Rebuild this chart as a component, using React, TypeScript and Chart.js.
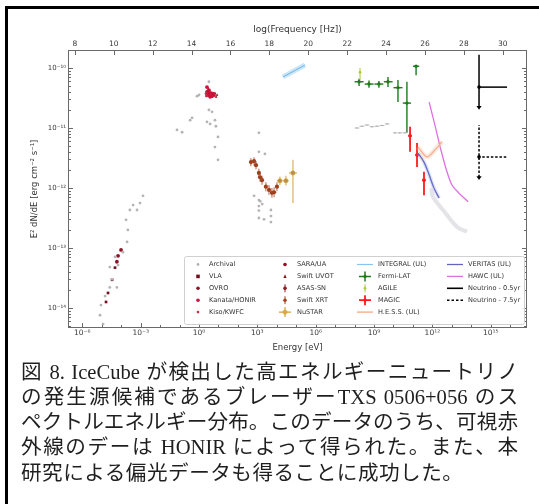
import { useEffect, useRef } from 'react';
import { Chart, registerables } from 'chart.js';

Chart.register(...registerables);

// ---------------- data (E in eV, F in erg cm^-2 s^-1) ----------------
const archivalE = [
  8.1e-6, 9.1e-6, 1.48e-5, 1.17e-5, 2.6e-5, 3.4e-5, 6.0e-5, 2.6e-5, 6.9e-5, 4.8e-5, 1.23e-4, 2.0e-4, 2.2e-4, 1.78e-4, 2.8e-4, 4.1e-4, 6.5e-4, 9.3e-4, 1.32e-3,
  3.24, 0.79, 1.0, 3.24, 4.68, 0.44, 0.35, 2.57, 3.72, 6.6, 7.4, 0.074, 0.135, 9.5, 6.6, 9.5,
  1200, 1200, 2450, 680, 1200, 1200, 1200, 1200, 2200, 5000, 5000, 5000, 1410, 1780,
];
const archivalF = [
  7.6e-15, 1.12e-14, 1.58e-14, 5.4e-15, 2.2e-14, 3.0e-14, 2.2e-14, 4.8e-14, 5.2e-14, 7.1e-14, 8.5e-14, 1.26e-13, 2.0e-13, 2.95e-13, 4.3e-13, 5.2e-13, 4.3e-13, 5.6e-13, 7.4e-13,
  5.9e-11, 3.39e-11, 3.55e-11, 2.0e-11, 1.86e-11, 1.48e-11, 1.35e-11, 1.26e-11, 1.17e-11, 1.35e-11, 1.07e-11, 9.3e-12, 8.5e-12, 7.1e-12, 4.8e-12, 2.95e-12,
  8.3e-12, 4.0e-12, 3.7e-12, 7.4e-13, 6.3e-13, 5.0e-13, 4.2e-13, 3.16e-13, 3.0e-13, 4.3e-13, 3.4e-13, 2.7e-13, 6.0e-13, 5.4e-13,
];
const archivalGammaE = [1.32e8, 2.4e8, 4.4e8, 7.8e8, 1.41e9, 2.57e9, 4.7e9, 1.2e10, 2.1e10, 3.9e10];
const archivalGammaF = [1.0e-11, 1.07e-11, 1.12e-11, 1.05e-11, 1.07e-11, 1.1e-11, 1.17e-11, 8.3e-12, 8.3e-12, 8.3e-12];
const archivalGammaELo = [1.0e8, 1.8e8, 3.3e8, 6.0e8, 1.07e9, 1.95e9, 3.6e9, 9.5e9, 1.65e10, 3.0e10];
const archivalGammaEHi = [1.75e8, 3.2e8, 5.8e8, 1.02e9, 1.85e9, 3.4e9, 6.2e9, 1.55e10, 2.8e10, 5.0e10];

const vlaE = [1.66e-5, 2.1e-5, 3.4e-5, 4.8e-5];
const vlaF = [1.26e-14, 1.78e-14, 2.95e-14, 4.7e-14];
const ovroE = [6.0e-5, 6.9e-5, 9.8e-5];
const ovroF = [5.9e-14, 7.4e-14, 9.3e-14];

const kanataE = [2.57, 2.88, 3.24, 3.72, 4.17, 4.68, 5.25, 5.89, 2.57];
const kanataF = [3.98e-11, 3.55e-11, 4.27e-11, 3.31e-11, 3.8e-11, 3.39e-11, 3.72e-11, 3.55e-11, 4.8e-11];
const kisoE = [2.29, 2.4];
const kisoF = [3.72e-11, 3.4e-11];
const saraE = [2.88, 3.1];
const saraF = [3.8e-11, 3.6e-11];
const uvotE = [6.6, 8.5, 7.6];
const uvotF = [3.8e-11, 3.55e-11, 3.3e-11];
const asassnE = [3.0];
const asassnF = [4.1e-11];
const asassnFLo = [3.5e-11];
const asassnFHi = [4.8e-11];

const xrtE = [468, 676, 851, 1200, 1380, 1740, 2750, 3980, 5620, 7240, 10200];
const xrtF = [2.7e-12, 2.8e-12, 2.4e-12, 1.78e-12, 1.51e-12, 1.35e-12, 1.05e-12, 9.3e-13, 8.3e-13, 8.5e-13, 1.05e-12];
const xrtFLo = [2.3e-12, 2.4e-12, 2.05e-12, 1.5e-12, 1.27e-12, 1.13e-12, 8.8e-13, 7.7e-13, 6.9e-13, 7.0e-13, 8.8e-13];
const xrtFHi = [3.15e-12, 3.25e-12, 2.8e-12, 2.1e-12, 1.78e-12, 1.6e-12, 1.25e-12, 1.12e-12, 1.0e-12, 1.03e-12, 1.25e-12];

const nustarE = [1.45e4, 2.95e4, 6.76e4];
const nustarF = [1.32e-12, 1.32e-12, 1.78e-12];
const nustarFLo = [1.12e-12, 1.1e-12, 5.6e-13];
const nustarFHi = [1.55e-12, 1.6e-12, 2.95e-12];
const nustarELo = [1.0e4, 2.1e4, 4.2e4];
const nustarEHi = [2.0e4, 4.0e4, 1.1e5];

const integralE = [2.09e4, 2.8e5];
const integralF = [7.1e-11, 1.12e-10];

const fermiE = [1.7e8, 5.5e8, 1.78e9, 5.2e9, 1.7e10, 4.9e10, 1.45e11];
const fermiF = [5.9e-11, 5.4e-11, 5.4e-11, 5.9e-11, 4.7e-11, 2.6e-11, 1.07e-10];
const fermiFLo = [5.0e-11, 4.7e-11, 4.7e-11, 4.8e-11, 2.7e-11, 8.3e-12, 7.6e-11];
const fermiFHi = [6.6e-11, 6.2e-11, 6.1e-11, 7.1e-11, 6.3e-11, 5.9e-11, 1.07e-10];
const fermiELo = [1.0e8, 3.3e8, 1.05e9, 3.2e9, 1.0e10, 3.0e10, 1.0e11];
const fermiEHi = [2.9e8, 9.5e8, 3.0e9, 9.0e9, 2.9e10, 8.0e10, 2.1e11];

const agileE = [1.9e8];
const agileF = [8.5e-11];
const agileFLo = [6.3e-11];
const agileFHi = [1.0e-10];

const magicE = [7.1e10, 1.62e11, 3.7e11];
const magicF = [7.4e-12, 3.55e-12, 1.35e-12];
const magicFLo = [4.0e-12, 2.24e-12, 7.6e-13];
const magicFHi = [1.05e-11, 5.6e-12, 1.86e-12];
const magicELo = [5.8e10, 1.32e11, 3.0e11];
const magicEHi = [8.7e10, 2.0e11, 4.5e11];

const hessE = [1.82e11, 5.2e11, 1.35e12, 3.1e12];
const hessF = [4.8e-12, 3.3e-12, 4.3e-12, 5.9e-12];

const veritasE = [1.82e11, 3.7e11, 6.8e11, 1.2e12, 2.2e12];
const veritasF = [3.8e-12, 2.7e-12, 1.66e-12, 1.0e-12, 6.8e-13];
const veritasBandE = [8.9e11, 1.07e12, 3.5e12, 1.86e13, 6.0e13];
const veritasBandF = [1.0e-12, 7.1e-13, 4.3e-13, 2.24e-13, 1.86e-13];

const hawcE = [6.8e11, 1.35e12, 2.75e12, 5.6e12, 1.02e13, 2.1e13, 6.8e13];
const hawcF = [2.7e-11, 1.12e-11, 4.3e-12, 1.86e-12, 1.12e-12, 8.5e-13, 5.9e-13];

const nu05E = [2.5e14];
const nu05F = [4.8e-11];
const nu05FLo = [2.24e-11];
const nu05FHi = [1.66e-10];
const nu75E = [2.5e14];
const nu75F = [3.3e-12];
const nu75FLo = [1.51e-12];
const nu75FHi = [1.12e-11];
const nuELo = [2.2e14];
const nuEHi = [6.9e15];

// ---------------- axis ticks ----------------
const energyTickValues = [1e-6, 1e-3, 1, 1e3, 1e6, 1e9, 1e12, 1e15];
const energyTickLabels = ['10⁻⁶', '10⁻³', '10⁰', '10³', '10⁶', '10⁹', '10¹²', '10¹⁵'];
const energyMinorTicks = [1e-6, 1e-5, 1e-4, 1e-3, 1e-2, 1e-1, 1, 1e1, 1e2, 1e3, 1e4, 1e5, 1e6, 1e7, 1e8, 1e9, 1e10, 1e11, 1e12, 1e13, 1e14, 1e15, 1e16];
const fluxTickValues = [1e-14, 1e-13, 1e-12, 1e-11, 1e-10];
const fluxTickLabels = ['10⁻¹⁴', '10⁻¹³', '10⁻¹²', '10⁻¹¹', '10⁻¹⁰'];
const fluxDecades = [1e-15, 1e-14, 1e-13, 1e-12, 1e-11, 1e-10];
const freqTickValues = [8, 10, 12, 14, 16, 18, 20, 22, 24, 26, 28, 30];
const freqTickLabels = ['8', '10', '12', '14', '16', '18', '20', '22', '24', '26', '28', '30'];

const captionLines = [
  '図 8. IceCube が検出した高エネルギーニュートリノ',
  'の発生源候補であるブレーザーTXS 0506+056 のス',
  'ペクトルエネルギー分布。このデータのうち、可視赤',
  '外線のデーは HONIR によって得られた。また、本',
  '研究による偏光データも得ることに成功した。',
];

// ---------------- styles ----------------
const COL = {
  archival: '#b4b4b4', vla: '#741020', ovro: '#8e1528', kanata: '#d0103a', kiso: '#c0304a',
  sara: '#901020', uvot: '#801818', asassn: '#8a1c24', xrt: '#a0401c', nustar: '#d4a23a',
  integral: '#87c5f0', fermi: '#1e7a1e', agile: '#a8c832', magic: '#ff1a1a', hess: '#f5a882',
  veritas: '#6464c0', hawc: '#e070e0', nu: '#000000',
};
const FONT = '"DejaVu Sans", sans-serif';

const pts = (E: number[], F: number[]) => E.map((x, i) => ({ x, y: F[i] }));

const scatter = (data: any, color: string, r: number, extra: any = {}) => ({
  data, showLine: false, pointRadius: r, pointBackgroundColor: color, pointBorderWidth: 0,
  pointBorderColor: color, ...extra,
});
const curve = (data: any, color: string, w: number, extra: any = {}) => ({
  data, showLine: true, borderColor: color, borderWidth: w, pointRadius: 0, tension: 0.3, ...extra,
});

const legendEntries: any[] = [
  { label: 'Archival', kind: 'dot', color: COL.archival, r: 1.4 },
  { label: 'VLA', kind: 'square', color: COL.vla, r: 1.8 },
  { label: 'OVRO', kind: 'dot', color: COL.ovro, r: 1.8 },
  { label: 'Kanata/HONIR', kind: 'dot', color: COL.kanata, r: 1.8 },
  { label: 'Kiso/KWFC', kind: 'dot', color: COL.kiso, r: 1.3 },
  { label: 'SARA/UA', kind: 'dot', color: COL.sara, r: 1.8 },
  { label: 'Swift UVOT', kind: 'tri', color: COL.uvot, r: 1.6 },
  { label: 'ASAS-SN', kind: 'errv', color: COL.asassn, r: 1.8 },
  { label: 'Swift XRT', kind: 'errv', color: COL.xrt, r: 1.8 },
  { label: 'NuSTAR', kind: 'cross', color: COL.nustar, r: 1.8, lw: 1.2, circle: true },
  { label: 'INTEGRAL (UL)', kind: 'line', color: COL.integral, lw: 1.2 },
  { label: 'Fermi-LAT', kind: 'cross', color: COL.fermi, lw: 1.5 },
  { label: 'AGILE', kind: 'cross', color: COL.agile, lw: 1, small: true },
  { label: 'MAGIC', kind: 'cross', color: COL.magic, lw: 1.8 },
  { label: 'H.E.S.S. (UL)', kind: 'line', color: COL.hess, lw: 1.3 },
  { label: 'VERITAS (UL)', kind: 'line', color: COL.veritas, lw: 1.3 },
  { label: 'HAWC (UL)', kind: 'line', color: COL.hawc, lw: 1.3 },
  { label: 'Neutrino - 0.5yr', kind: 'line', color: COL.nu, lw: 1.6 },
  { label: 'Neutrino - 7.5yr', kind: 'dash', color: COL.nu, lw: 1.6 },
];

const errorBarPlugin = {
  id: 'errorBars',
  beforeDatasetDraw(chart: any, args: any) {
    const ds: any = chart.data.datasets[args.index];
    const eb = ds.errorBars;
    if (!eb) return;
    const xs = chart.scales.x, ys = chart.scales.y;
    const { ctx, chartArea: ca } = chart;
    ctx.save();
    ctx.beginPath();
    ctx.rect(ca.left, ca.top, ca.right - ca.left, ca.bottom - ca.top);
    ctx.clip();
    ctx.strokeStyle = eb.color;
    ctx.fillStyle = eb.color;
    ctx.lineWidth = eb.width || 1;
    ctx.setLineDash(eb.dash || []);
    ds.data.forEach((p: any, i: number) => {
      const px = xs.getPixelForValue(p.x);
      const py = ys.getPixelForValue(p.y);
      if (eb.yLo && eb.yHi) {
        const y1 = ys.getPixelForValue(eb.yLo[i]);
        const y2 = ys.getPixelForValue(eb.yHi[i]);
        ctx.beginPath(); ctx.moveTo(px, y1); ctx.lineTo(px, y2); ctx.stroke();
        if (eb.arrowLow) {
          ctx.save(); ctx.setLineDash([]);
          ctx.beginPath(); ctx.moveTo(px - 2.6, y1 - 1); ctx.lineTo(px + 2.6, y1 - 1); ctx.lineTo(px, y1 + 2.8); ctx.closePath(); ctx.fill();
          ctx.restore();
        }
      }
      if (eb.xLo && eb.xHi) {
        const x1 = xs.getPixelForValue(eb.xLo[i]);
        const x2 = xs.getPixelForValue(eb.xHi[i]);
        ctx.beginPath(); ctx.moveTo(x1, py); ctx.lineTo(x2, py); ctx.stroke();
      }
    });
    ctx.restore();
  },
};

const axesPlugin = {
  id: 'axesFrame',
  afterDatasetsDraw(chart: any) {
    const { ctx, chartArea: ca, scales } = chart;
    const xs = scales.x, ys = scales.y, x2 = scales.x2;
    ctx.save();
    ctx.strokeStyle = '#6a6a6a';
    ctx.lineWidth = 1;
    ctx.strokeRect(ca.left - 0.5, ca.top - 0.5, ca.right - ca.left + 1, ca.bottom - ca.top + 1);
    ctx.beginPath();
    energyMinorTicks.forEach((v) => {
      const px = Math.round(xs.getPixelForValue(v)) + 0.5;
      if (px < ca.left || px > ca.right) return;
      const len = energyTickValues.includes(v) ? 4 : 2;
      ctx.moveTo(px, ca.bottom); ctx.lineTo(px, ca.bottom - len);
    });
    freqTickValues.forEach((v) => {
      const px = Math.round(x2.getPixelForValue(v)) + 0.5;
      ctx.moveTo(px, ca.top); ctx.lineTo(px, ca.top + 4);
    });
    fluxDecades.forEach((d) => {
      for (let k = 1; k <= 9; k++) {
        const v = d * k;
        const py = Math.round(ys.getPixelForValue(v)) + 0.5;
        if (py < ca.top || py > ca.bottom) continue;
        const len = k === 1 ? 4 : 2;
        ctx.moveTo(ca.left, py); ctx.lineTo(ca.left + len, py);
        ctx.moveTo(ca.right, py); ctx.lineTo(ca.right - len, py);
      }
    });
    ctx.stroke();
    ctx.restore();
  },
};

const legendPlugin = {
  id: 'sedLegend',
  afterDraw(chart: any) {
    const { ctx, chartArea: ca } = chart;
    const bx = ca.left + 115, by = ca.top + 205, bw = ca.right - 2 - bx, bh = ca.bottom - 3 - by;
    ctx.save();
    ctx.fillStyle = 'rgba(255,255,255,0.85)';
    ctx.strokeStyle = '#d0d0d0';
    ctx.lineWidth = 1;
    ctx.beginPath();
    ctx.roundRect(bx + 0.5, by + 0.5, bw, bh, 2);
    ctx.fill(); ctx.stroke();
    const markerX = [14, 101, 181, 271];
    const textX = [25, 113, 194, 284];
    ctx.font = `6.6px ${FONT}`;
    ctx.textBaseline = 'middle';
    legendEntries.forEach((e, i) => {
      const col = Math.floor(i / 5), row = i % 5;
      const cx = bx + markerX[col];
      const cy = by + 8.5 + row * 11.9;
      ctx.fillStyle = e.color;
      ctx.strokeStyle = e.color;
      ctx.setLineDash([]);
      if (e.kind === 'dot') {
        ctx.beginPath(); ctx.arc(cx, cy, e.r, 0, Math.PI * 2); ctx.fill();
      } else if (e.kind === 'square') {
        ctx.fillRect(cx - e.r, cy - e.r, e.r * 2, e.r * 2);
      } else if (e.kind === 'tri') {
        ctx.beginPath(); ctx.moveTo(cx, cy - e.r - 0.5); ctx.lineTo(cx + e.r, cy + e.r); ctx.lineTo(cx - e.r, cy + e.r); ctx.closePath(); ctx.fill();
      } else if (e.kind === 'errv') {
        ctx.lineWidth = 1;
        ctx.beginPath(); ctx.moveTo(cx, cy - 4); ctx.lineTo(cx, cy + 4); ctx.stroke();
        ctx.beginPath(); ctx.arc(cx, cy, e.r, 0, Math.PI * 2); ctx.fill();
      } else if (e.kind === 'cross') {
        const hw = e.small ? 3 : 6, hh = e.small ? 4 : 5;
        ctx.lineWidth = e.lw;
        ctx.beginPath();
        if (!e.small) { ctx.moveTo(cx - hw, cy); ctx.lineTo(cx + hw, cy); }
        ctx.moveTo(cx, cy - hh); ctx.lineTo(cx, cy + hh); ctx.stroke();
        ctx.beginPath(); ctx.arc(cx, cy, e.small ? 1.3 : 1.6, 0, Math.PI * 2); ctx.fill();
        if (e.circle) { ctx.lineWidth = 0.8; ctx.beginPath(); ctx.arc(cx, cy, 2.2, 0, Math.PI * 2); ctx.stroke(); }
      } else {
        ctx.lineWidth = e.lw;
        if (e.kind === 'dash') ctx.setLineDash([2.5, 2]);
        ctx.beginPath(); ctx.moveTo(cx - 8, cy); ctx.lineTo(cx + 8, cy); ctx.stroke();
      }
      ctx.setLineDash([]);
      ctx.fillStyle = '#333';
      ctx.fillText(e.label, bx + textX[col], cy);
    });
    ctx.restore();
  },
};

export default function App() {
  const ref = useRef<HTMLCanvasElement>(null);

  useEffect(() => {
    document.body.style.margin = '0';
    const canvas = ref.current;
    if (!canvas) return;
    const tickFont = { size: 7.5, family: FONT };
    const datasets: any[] = [
      curve(pts(integralE, integralF), 'rgba(135,197,240,0.45)', 5, { tension: 0 }),
      curve(pts(integralE, integralF), '#5aa6e0', 1, { tension: 0 }),
      curve(pts(veritasBandE, veritasBandF), 'rgba(222,222,228,0.85)', 4),
      curve(pts(hessE, hessF), 'rgba(250,190,160,0.3)', 5),
      curve(pts(hessE, hessF), COL.hess, 1.2),
      curve(pts(veritasE, veritasF), 'rgba(120,130,215,0.22)', 4),
      curve(pts(veritasE, veritasF), COL.veritas, 1.3),
      curve(pts(hawcE, hawcF), COL.hawc, 1.3),
      scatter(pts(archivalE, archivalF), COL.archival, 1.4),
      scatter(pts(archivalGammaE, archivalGammaF), COL.archival, 0.8, {
        errorBars: { xLo: archivalGammaELo, xHi: archivalGammaEHi, color: COL.archival, width: 1 },
      }),
      scatter(pts(vlaE, vlaF), COL.vla, 1.9, { pointStyle: 'rect' }),
      scatter(pts(ovroE, ovroF), COL.ovro, 1.9),
      scatter(pts(kisoE, kisoF), COL.kiso, 1.4),
      scatter(pts(kanataE, kanataF), COL.kanata, 1.9),
      scatter(pts(saraE, saraF), COL.sara, 1.9),
      scatter(pts(uvotE, uvotF), COL.uvot, 1.6, { pointStyle: 'triangle' }),
      scatter(pts(asassnE, asassnF), COL.asassn, 1.9, {
        errorBars: { yLo: asassnFLo, yHi: asassnFHi, color: COL.asassn, width: 1 },
      }),
      scatter(pts(xrtE, xrtF), COL.xrt, 2.1, {
        errorBars: { yLo: xrtFLo, yHi: xrtFHi, color: COL.xrt, width: 0.8 },
      }),
      scatter(pts(nustarE, nustarF), '#b88a50', 2.1, {
        pointBorderWidth: 0.8, pointBorderColor: COL.nustar,
        errorBars: { yLo: nustarFLo, yHi: nustarFHi, xLo: nustarELo, xHi: nustarEHi, color: COL.nustar, width: 1 },
      }),
      scatter(pts(agileE, agileF), COL.agile, 1.3, {
        errorBars: { yLo: agileFLo, yHi: agileFHi, color: COL.agile, width: 1 },
      }),
      scatter(pts(fermiE, fermiF), COL.fermi, 1.7, {
        errorBars: { yLo: fermiFLo, yHi: fermiFHi, xLo: fermiELo, xHi: fermiEHi, color: COL.fermi, width: 1.4 },
      }),
      scatter(pts(magicE, magicF), COL.magic, 1.8, {
        errorBars: { yLo: magicFLo, yHi: magicFHi, xLo: magicELo, xHi: magicEHi, color: COL.magic, width: 1.8 },
      }),
      scatter(pts(nu05E, nu05F), COL.nu, 1.8, {
        errorBars: { yLo: nu05FLo, yHi: nu05FHi, xLo: nuELo, xHi: nuEHi, color: COL.nu, width: 1.5, arrowLow: true },
      }),
      scatter(pts(nu75E, nu75F), COL.nu, 1.8, {
        errorBars: { yLo: nu75FLo, yHi: nu75FHi, xLo: nuELo, xHi: nuEHi, color: COL.nu, width: 1.5, dash: [2.5, 1.8], arrowLow: true },
      }),
    ];

    const chart = new Chart(canvas, {
      type: 'scatter',
      data: { datasets },
      plugins: [errorBarPlugin, axesPlugin, legendPlugin],
      options: {
        animation: false,
        responsive: false,
        events: [],
        layout: { padding: { left: 0, right: 13, top: 0, bottom: 0 } },
        plugins: { legend: { display: false }, tooltip: { enabled: false } },
        scales: {
          x: {
            type: 'logarithmic', position: 'bottom', min: 2.07e-7, max: 6.5e16,
            afterBuildTicks: (s: any) => { s.ticks = energyTickValues.map((v) => ({ value: v })); },
            afterFit: (s: any) => { s.height = 33; },
            grid: { display: false, drawTicks: false },
            border: { display: false },
            ticks: {
              autoSkip: false, maxRotation: 0, padding: 2, font: tickFont, color: '#3a3a3a',
              callback: (_v: any, i: number) => energyTickLabels[i],
            },
            title: { display: true, text: 'Energy [eV]', font: { size: 8.5, family: FONT }, color: '#333', padding: { top: 0, bottom: 7 } },
          },
          x2: {
            type: 'linear', position: 'top', min: 7.699, max: 31.193,
            afterBuildTicks: (s: any) => { s.ticks = freqTickValues.map((v) => ({ value: v })); },
            afterFit: (s: any) => { s.height = 51; },
            grid: { display: false, drawTicks: false },
            border: { display: false },
            ticks: {
              autoSkip: false, maxRotation: 0, padding: 2.5, font: tickFont, color: '#3a3a3a',
              callback: (_v: any, i: number) => freqTickLabels[i],
            },
            title: { display: true, text: 'log(Frequency [Hz])', font: { size: 9, family: FONT }, color: '#333', padding: { top: 24.5, bottom: 0 } },
          },
          y: {
            type: 'logarithmic', position: 'left', min: 4.82e-15, max: 1.92e-10,
            afterBuildTicks: (s: any) => { s.ticks = fluxTickValues.map((v) => ({ value: v })); },
            afterFit: (s: any) => { s.width = 69; },
            grid: { display: false, drawTicks: false },
            border: { display: false },
            ticks: {
              autoSkip: false, padding: 3, font: { size: 7, family: FONT }, color: '#3a3a3a',
              callback: (_v: any, i: number) => fluxTickLabels[i],
            },
            title: { display: true, text: 'E² dN/dE [erg cm⁻² s⁻¹]', font: { size: 8.5, family: FONT }, color: '#333', padding: { top: 29.5, bottom: 0 } },
          },
        },
      } as any,
    });
    return () => chart.destroy();
  }, []);

  return (
    <div style={{ position: 'relative', width: 539, height: 504, overflow: 'hidden', background: '#fff' }}>
      <canvas ref={ref} width={539} height={360} style={{ position: 'absolute', left: 0, top: 0, width: 539, height: 360 }} />
      <div style={{ position: 'absolute', left: 5, top: 6, width: 700, height: 700, borderLeft: '3px solid #000', borderTop: '3px solid #000', boxSizing: 'border-box' }} />
      {captionLines.map((t, i) => (
        <div
          key={i}
          style={{
            position: 'absolute', left: 21, top: 359.5 + i * 25.3, width: 497,
            fontFamily: '"Liberation Serif", "Noto Sans CJK JP", serif', fontSize: 20.6, lineHeight: '25px',
            color: '#1f1f1f', textAlign: 'justify', textAlignLast: i < 4 ? 'justify' : 'left',
            letterSpacing: i < 4 ? 0 : 0.5,
          } as any}
        >
          {t}
        </div>
      ))}
    </div>
  );
}
